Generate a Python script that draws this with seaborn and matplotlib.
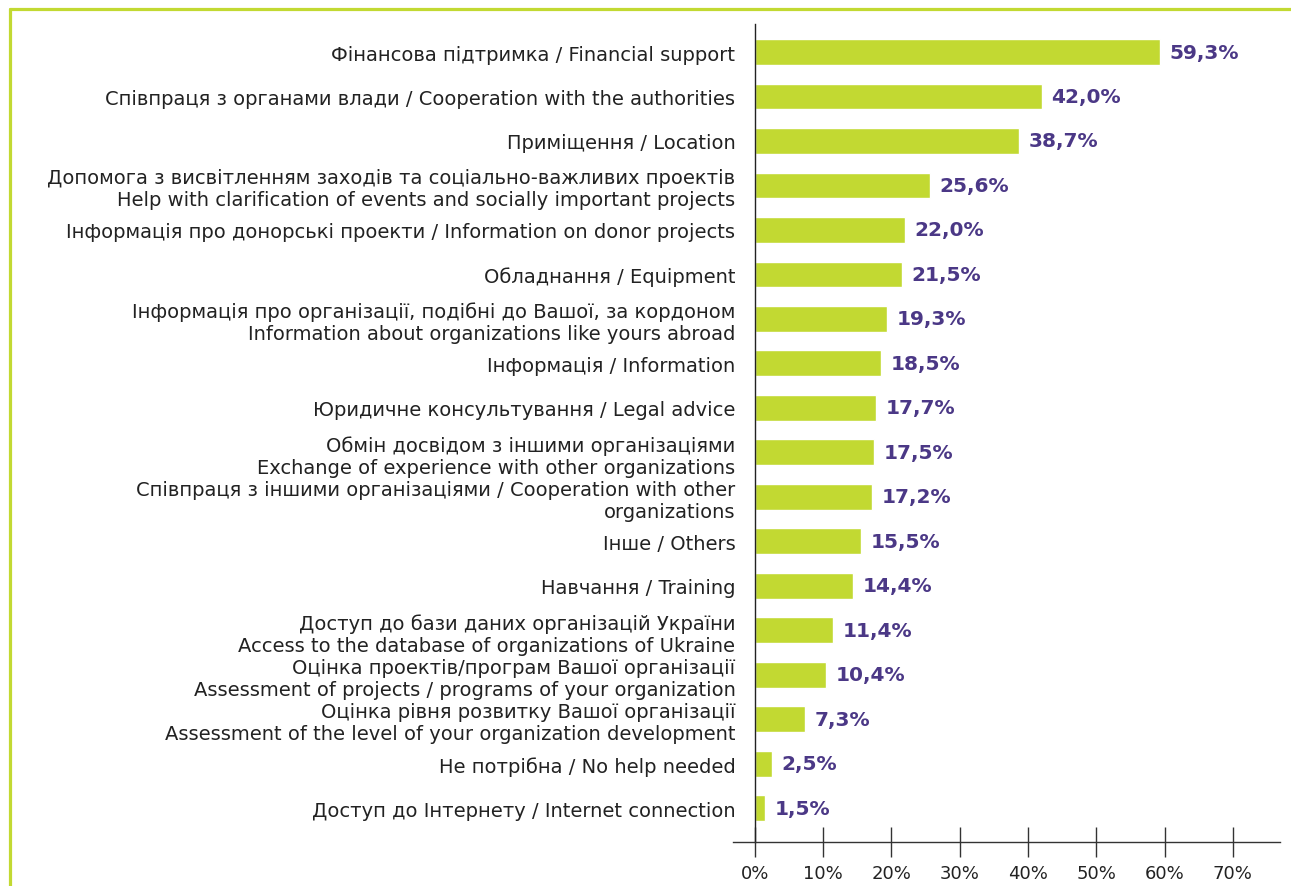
import matplotlib
matplotlib.use("Agg")
import matplotlib.pyplot as plt
import seaborn as sns
import pandas as pd
from matplotlib.lines import Line2D

# дані з діаграми
categories = [
    "Фінансова підтримка / Financial support",
    "Співпраця з органами влади / Cooperation with the authorities",
    "Приміщення / Location",
    "Допомога з висвітленням заходів та соціально-важливих проектів\nHelp with clarification of events and socially important projects",
    "Інформація про донорські проекти / Information on donor projects",
    "Обладнання / Equipment",
    "Інформація про організації, подібні до Вашої, за кордоном\nInformation about organizations like yours abroad",
    "Інформація / Information",
    "Юридичне консультування / Legal advice",
    "Обмін досвідом з іншими організаціями\nExchange of experience with other organizations",
    "Співпраця з іншими організаціями / Cooperation with other\norganizations",
    "Інше / Others",
    "Навчання / Training",
    "Доступ до бази даних організацій України\nAccess to the database of organizations of Ukraine",
    "Оцінка проектів/програм Вашої організації\nAssessment of projects / programs of your organization",
    "Оцінка рівня розвитку Вашої організації\nAssessment of the level of your organization development",
    "Не потрібна / No help needed",
    "Доступ до Інтернету / Internet connection",
]
values = [59.3, 42.0, 38.7, 25.6, 22.0, 21.5, 19.3, 18.5, 17.7, 17.5,
          17.2, 15.5, 14.4, 11.4, 10.4, 7.3, 2.5, 1.5]
x_ticks = [0, 10, 20, 30, 40, 50, 60, 70]
x_tick_labels = ["0%", "10%", "20%", "30%", "40%", "50%", "60%", "70%"]

green = "#c2d932"
purple = "#4b3886"

df = pd.DataFrame({"category": categories, "value": values})

sns.set_style("white")
plt.rcParams["font.family"] = ["DejaVu Sans"]

fig = plt.figure(figsize=(12.91, 8.87), dpi=100)
ax = fig.add_axes([0.5678, 0.0496, 0.4237, 0.9222])

sns.barplot(data=df, x="value", y="category", orient="h", color=green,
            width=0.58, saturation=1, ax=ax)

labels = [f"{v:.1f}%".replace(".", ",") for v in values]
ax.bar_label(ax.containers[0], labels=labels, padding=7, color=purple,
             fontsize=14.5, fontweight="bold")

ax.set_xlim(-3.2, 76.9)
ax.set_ylim(17.76, -0.63)
ax.set_xticks(x_ticks)
ax.set_xticklabels(x_tick_labels, fontsize=13, color="#222222",
                   family=["Liberation Sans Narrow", "DejaVu Sans"])
ax.tick_params(axis="x", bottom=True, direction="inout", length=21, width=1,
               color="#333333", pad=5)
ax.tick_params(axis="y", left=False, length=0, pad=14, labelsize=14,
               labelcolor="#222222")
ax.set_xlabel("")
ax.set_ylabel("")

for s in ["top", "right"]:
    ax.spines[s].set_visible(False)
ax.spines["left"].set_position(("data", 0))
ax.spines["left"].set_color("#222222")
ax.spines["bottom"].set_color("#333333")
ax.spines["left"].set_linewidth(1)
ax.spines["bottom"].set_linewidth(1)

# зелена рамка
fig.add_artist(Line2D([0.0077, 1.0], [0.9887, 0.9887], color=green, lw=2.3))
fig.add_artist(Line2D([0.0077, 0.0077], [0.0, 0.9887], color=green, lw=2.3))

fig.savefig("out.png", dpi=100)
